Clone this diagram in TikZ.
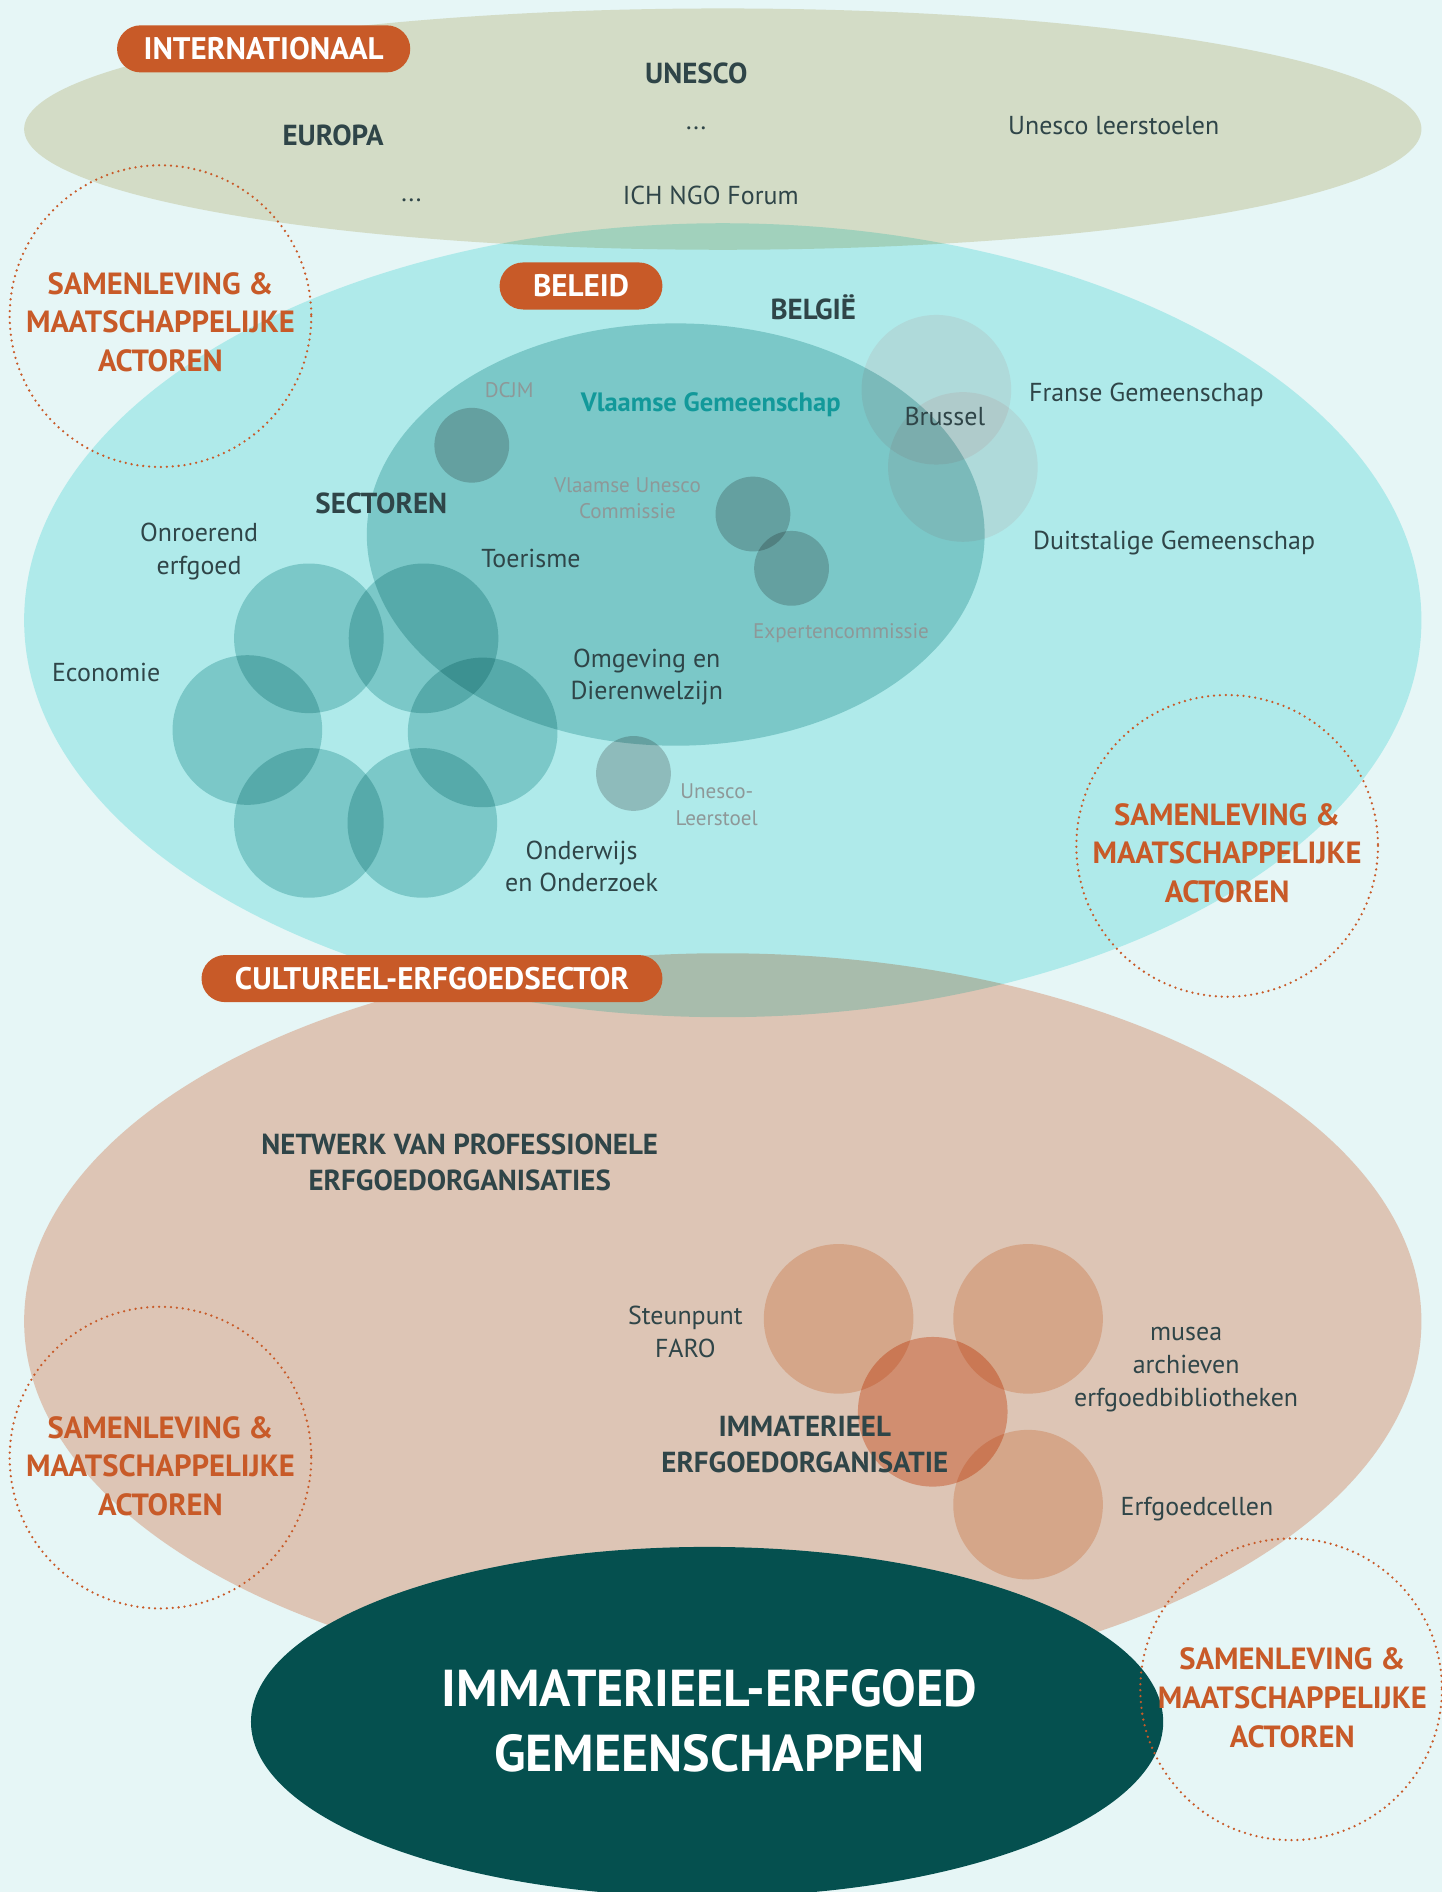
\documentclass[tikz,border=0pt]{standalone}
\usepackage{fontspec}
\setmainfont{PT Sans}
\definecolor{bgc}{HTML}{E6F6F6}
\definecolor{intc}{HTML}{D3DCC6}
\definecolor{cyanm}{HTML}{C3F3F3}
\definecolor{tanm}{HTML}{F6CDBC}
\definecolor{tealm}{HTML}{B4DADA}
\definecolor{greym}{HTML}{D0CCCC}
\definecolor{brum}{HTML}{FFEEEE}
\definecolor{orm}{HTML}{F6D7C2}
\definecolor{ormid}{HTML}{F2B99E}
\definecolor{darkc}{HTML}{05504F}
\definecolor{orng}{HTML}{C85A28}
\definecolor{ink}{HTML}{2F4548}
\definecolor{greytxt}{HTML}{8E9898}
\definecolor{vgtxt}{HTML}{12999A}
\begin{document}
\begin{tikzpicture}[x=1pt,y=-1pt,
  lbl/.style={text=ink,font=\fontsize{21.5}{27}\selectfont,align=center,inner sep=0pt},
  head/.style={text=ink,font=\bfseries\fontsize{24}{30}\selectfont,align=center,inner sep=0pt},
  greylbl/.style={text=greytxt,font=\fontsize{17.5}{22}\selectfont,align=center,inner sep=0pt},
  vglbl/.style={text=vgtxt,font=\bfseries\fontsize{22}{25}\selectfont,inner sep=0pt},
  pill/.style={fill=orng,text=white,font=\bfseries\fontsize{25.8}{27}\selectfont,rounded corners=19.5pt,minimum height=39pt,inner sep=0pt},
  samen/.style={text=orng,font=\bfseries\fontsize{25.4}{32}\selectfont,align=center,inner sep=0pt},
  ring/.style={draw=orng,line width=2.1pt,dash pattern=on 0pt off 4.9pt,line cap=round},
  darktxt/.style={text=white,font=\bfseries\fontsize{43}{54}\selectfont,align=center,inner sep=0pt}]
\useasboundingbox (0,0) rectangle (1195,1568);
\fill[bgc] (0,0) rectangle (1195,1568);
% international
\fill[intc] (599,107) ellipse [x radius=579,y radius=100];
\begin{scope}[blend mode=multiply]
\fill[cyanm] (599,514) ellipse [x radius=579,y radius=329];
\fill[tanm] (599,1095) ellipse [x radius=579,y radius=305];
\fill[tealm] (560,443) ellipse [x radius=256,y radius=175];
% sector flower
\foreach \p in {(256,529),(351,529),(205,605),(400,607),(256,682),(350,682)}
  \fill[tealm] \p circle (62);
% small grey circles
\fill[greym] (391,369) circle (31);
\fill[greym] (624,426) circle (31);
\fill[greym] (656,471) circle (31);
\fill[greym] (525,641) circle (31);
% Brussel
\fill[brum] (776,323) circle (62);
\fill[brum] (798,387) circle (62);
% orange circles
\fill[orm] (695,1093) circle (62);
\fill[orm] (852,1093) circle (62);
\fill[orm] (852,1247) circle (62);
\fill[ormid] (773,1170) circle (62);
\end{scope}
% dark ellipse
\fill[darkc] (586,1427) ellipse [x radius=378,y radius=145];
% rings
\draw[ring] (133,262) circle (125);
\draw[ring] (1017,701) circle (125);
\draw[ring] (133,1208) circle (125);
\draw[ring] (1070,1400) circle (125);
% international texts
\node[pill,minimum width=243pt] (pint) at (218.5,40.5) {INTERNATIONAAL};
\node[head] (unesco) at (577,61) {UNESCO};
\node[head] (europa) at (276,112) {EUROPA};
\node[lbl] (dotsa) at (577,106) {...};
\node[lbl] (unl) at (923,104) {Unesco leerstoelen};
\node[lbl] (dotsb) at (341,166) {...};
\node[lbl] (ich) at (589,162) {ICH NGO Forum};
% beleid texts
\node[pill,minimum width=135pt] (pbel) at (481.5,237) {BELEID};
\node[head] (belgie) at (674,255) {BELGIË};
\node[vglbl] (vlg) at (589,335) {Vlaamse Gemeenschap};
\node[greylbl] (dcjm) at (422,323) {DCJM};
\node[greylbl] (vuc) at (520,413) {Vlaamse Unesco\\Commissie};
\node[greylbl] (exp) at (697,525) {Expertencommissie};
\node[greylbl] (uls) at (594,667) {Unesco-\\Leerstoel};
\node[lbl] (bru) at (783,345) {Brussel};
\node[lbl] (fr) at (950,327) {Franse Gemeenschap};
\node[lbl] (du) at (973,450) {Duitstalige Gemeenschap};
\node[head] (sect) at (316,417) {SECTOREN};
\node[lbl] (onr) at (165,457) {Onroerend\\erfgoed};
\node[lbl] (eco) at (88,557) {Economie};
\node[lbl] (toe) at (440,463) {Toerisme};
\node[lbl] (omg) at (536,561) {Omgeving en\\Dierenwelzijn};
\node[lbl] (ond) at (482,718) {Onderwijs\\en Onderzoek};
% cultureel texts
\node[pill,minimum width=382pt] (pcul) at (358,811) {CULTUREEL-ERFGOEDSECTOR};
\node[head] (netw) at (381,963) {NETWERK VAN PROFESSIONELE\\ERFGOEDORGANISATIES};
\node[lbl] (faro) at (568,1104) {Steunpunt\\FARO};
\node[lbl] (mus) at (983,1135) {musea\\archieven\\erfgoedbibliotheken};
\node[head] (imo) at (667,1197) {IMMATERIEEL\\ERFGOEDORGANISATIE};
\node[lbl] (erf) at (992,1251) {Erfgoedcellen};
% samenleving
\node[samen] (sa) at (133,267) {SAMENLEVING \&\\MAATSCHAPPELIJKE\\ACTOREN};
\node[samen] (sb) at (1017,707) {SAMENLEVING \&\\MAATSCHAPPELIJKE\\ACTOREN};
\node[samen] (sc) at (133,1215) {SAMENLEVING \&\\MAATSCHAPPELIJKE\\ACTOREN};
\node[samen] (sd) at (1071,1407) {SAMENLEVING \&\\MAATSCHAPPELIJKE\\ACTOREN};
% dark
\node[darktxt] (gem) at (588,1426) {IMMATERIEEL-ERFGOED\\GEMEENSCHAPPEN};
\end{tikzpicture}
\end{document}
